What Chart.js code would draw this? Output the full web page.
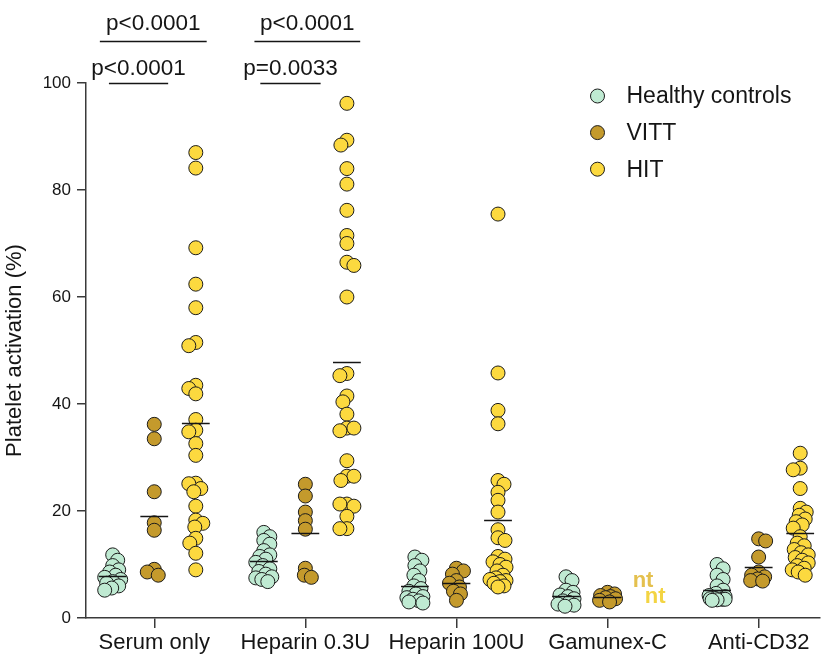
<!DOCTYPE html>
<html>
<head>
<meta charset="utf-8">
<script src="https://cdn.jsdelivr.net/npm/chart.js@4/dist/chart.umd.min.js"></script>
<style>
  html, body { margin: 0; padding: 0; background: #fff; }
  canvas { display: block; }
</style>
</head>
<body>
<canvas id="chart" width="828" height="662"></canvas>
<script>
// Stimulation conditions along the x axis
const categories = ['Serum only', 'Heparin 0.3U', 'Heparin 100U', 'Gamunex-C', 'Anti-CD32'];
const seriesNames = ['Healthy controls', 'VITT', 'HIT'];

// Platelet activation (%) per condition, one array per patient group
const healthy = [
  [11.8, 10.8, 9.8, 9.0, 8.6, 8.0, 7.6, 7.2, 6.8, 6.5, 6.0, 5.6, 5.2],
  [16.0, 15.2, 14.5, 13.8, 12.6, 11.8, 11.5, 11.0, 10.4, 9.8, 9.2, 8.7, 8.2, 7.7, 7.5, 7.2, 6.8],
  [11.4, 10.8, 9.8, 8.8, 8.0, 7.0, 6.0, 5.5, 5.0, 4.5, 4.0, 3.8, 3.5, 3.2, 3.0, 2.8],
  [7.7, 7.0, 5.2, 4.8, 4.3, 4.0, 3.6, 3.2, 2.9, 2.6, 2.4, 2.2],
  [10.0, 9.2, 8.0, 7.2, 6.0, 5.2, 4.6, 4.2, 4.0, 3.8, 3.7, 3.6, 3.5, 3.5, 3.4, 3.3]
];
const vitt = [
  [36.2, 33.5, 23.6, 17.8, 16.4, 9.1, 8.6, 8.0],
  [25.0, 22.8, 19.8, 18.2, 16.6, 9.3, 8.0, 7.6],
  [9.3, 8.8, 8.2, 7.0, 6.5, 5.8, 5.0, 4.5, 3.3],
  [4.8, 4.5, 4.2, 4.0, 3.8, 3.6, 3.3, 3.0],
  [14.8, 14.4, 11.4, 8.6, 8.0, 7.7, 7.3, 7.0, 6.9]
];
const hit = [
  [87.0, 84.1, 69.2, 62.4, 58.0, 51.5, 50.9, 43.5, 42.9, 41.9, 37.1, 35.1, 34.8, 32.6, 30.4,
   25.2, 25.1, 24.2, 23.6, 20.9, 18.3, 17.7, 17.0, 14.9, 14.0, 12.1, 9.0],
  [96.2, 89.3, 88.4, 84.0, 81.1, 76.2, 71.5, 70.0, 66.5, 65.9, 60.0, 45.7, 45.3, 41.5, 40.4,
   38.1, 35.5, 35.5, 35.0, 29.4, 26.5, 26.5, 25.7, 21.3, 21.3, 20.9, 19.0, 16.7, 16.7],
  [75.5, 45.8, 38.8, 36.3, 25.7, 25.0, 23.5, 22.0, 19.8, 16.5, 15.0, 14.5, 11.5, 11.0, 10.5,
   10.0, 9.5, 8.8, 8.0, 7.5, 7.2, 7.0, 6.8, 6.5, 6.0, 5.8],
  [],
  [30.8, 28.0, 27.7, 24.2, 20.5, 19.8, 19.2, 18.5, 18.0, 17.4, 16.8, 15.2, 14.0, 13.5, 12.8,
   12.2, 11.8, 11.3, 10.8, 10.3, 9.8, 9.3, 9.0, 8.6, 8.0]
];

// Significance labels: Serum only (HC vs HIT, HC vs VITT), Heparin 0.3U (HC vs HIT, HC vs VITT)
const pLabels = ['p<0.0001', 'p<0.0001', 'p<0.0001', 'p=0.0033'];
const notTestedLabel = 'nt';
const yTicks = [0, 20, 40, 60, 80, 100];

const FONT = "'Liberation Sans', Arial, Helvetica, sans-serif";
const INK = '#151515';
const AXIS = '#3a3a3a';
const fills = ['#bfead2', '#c49a2c', '#fcd93f'];
const groupOffset = [-0.275, 0, 0.275];
const groups = [healthy, vitt, hit];

const datasets = groups.map((g, gi) => ({
  label: seriesNames[gi],
  data: g.flatMap((vals, ci) => vals.map(v => ({ x: ci + groupOffset[gi], y: v, c: ci }))),
  backgroundColor: fills[gi],
  borderColor: '#1c1c1c',
  borderWidth: 1,
  pointRadius: 7,
  pointHoverRadius: 7
}));

const mean = arr => arr.reduce((a, b) => a + b, 0) / arr.length;

// Mean bars, significance brackets, "nt" labels and the legend
const decorations = {
  id: 'decorations',
  afterDatasetsDraw(chart) {
    const { ctx, scales: { x, y } } = chart;
    ctx.save();
    ctx.strokeStyle = INK;
    ctx.lineWidth = 1.5;
    groups.forEach((g, gi) => {
      g.forEach((vals, ci) => {
        if (!vals.length) return;
        const cx = ci + groupOffset[gi];
        const py = Math.round(y.getPixelForValue(mean(vals))) + 0.5;
        ctx.beginPath();
        ctx.moveTo(x.getPixelForValue(cx - 0.092), py);
        ctx.lineTo(x.getPixelForValue(cx + 0.092), py);
        ctx.stroke();
      });
    });
    ctx.restore();
  },
  afterDraw(chart) {
    const { ctx, scales: { x, y } } = chart;
    ctx.save();

    // brackets: [from, to, level value, label index]
    const brackets = [
      [-0.36, 0.347, 107.9, 0],
      [-0.30, 0.092, 100.0, 1],
      [0.663, 1.363, 107.9, 2],
      [0.702, 1.101, 100.0, 3]
    ];
    ctx.strokeStyle = INK;
    ctx.lineWidth = 1.5;
    ctx.fillStyle = INK;
    ctx.font = `22.5px ${FONT}`;
    ctx.textAlign = 'center';
    ctx.textBaseline = 'alphabetic';
    brackets.forEach(([a, b, lvl, li]) => {
      const py = Math.round(y.getPixelForValue(lvl)) + 0.5;
      const x1 = x.getPixelForValue(a), x2 = x.getPixelForValue(b);
      ctx.beginPath();
      ctx.moveTo(x1, py);
      ctx.lineTo(x2, py);
      ctx.stroke();
      const gap = lvl > 101 ? 12 : 9;
      ctx.fillText(pLabels[li], (x1 + x2) / 2, py - gap);
    });

    // not tested (HIT, Gamunex-C)
    ctx.font = `bold 22px ${FONT}`;
    ctx.textBaseline = 'middle';
    ctx.fillStyle = '#e4c04e';
    ctx.fillText(notTestedLabel, x.getPixelForValue(3.235), y.getPixelForValue(7.0));
    ctx.fillStyle = '#f3d443';
    ctx.fillText(notTestedLabel, x.getPixelForValue(3.315), y.getPixelForValue(4.0));

    // legend
    ctx.font = `23px ${FONT}`;
    ctx.textAlign = 'left';
    ctx.textBaseline = 'middle';
    seriesNames.forEach((name, i) => {
      const ly = 96 + i * 36.6;
      ctx.beginPath();
      ctx.arc(597.5, ly, 7, 0, Math.PI * 2);
      ctx.fillStyle = fills[i];
      ctx.fill();
      ctx.strokeStyle = '#1c1c1c';
      ctx.lineWidth = 1;
      ctx.stroke();
      ctx.fillStyle = INK;
      ctx.fillText(name, 626.5, ly + 1);
    });
    ctx.restore();
  }
};

const chart = new Chart(document.getElementById('chart'), {
  type: 'scatter',
  data: { datasets },
  options: {
    responsive: false,
    animation: false,
    devicePixelRatio: 1,
    layout: { padding: { top: 83, right: 0, bottom: 0, left: 0 } },
    plugins: { legend: { display: false }, tooltip: { enabled: false } },
    scales: {
      x: {
        type: 'linear',
        min: -0.4517,
        max: 4.406,
        afterFit(scale) { scale.height = 44; },
        afterBuildTicks(scale) { scale.ticks = categories.map((_, i) => ({ value: i })); },
        ticks: {
          autoSkip: false,
          maxRotation: 0,
          padding: 2,
          color: INK,
          font: { size: 22, family: FONT },
          callback: v => categories[v] ?? ''
        },
        grid: { drawOnChartArea: false, drawTicks: true, tickLength: 10, color: AXIS, lineWidth: 1.5 },
        border: { display: true, color: AXIS, width: 1.5 }
      },
      y: {
        min: 0,
        max: 100,
        afterFit(scale) { scale.width = 86; },
        afterBuildTicks(scale) { scale.ticks = yTicks.map(v => ({ value: v })); },
        ticks: { padding: 6, color: INK, font: { size: 17, family: FONT } },
        grid: { drawOnChartArea: false, drawTicks: true, tickLength: 9, color: AXIS, lineWidth: 1.5 },
        border: { display: true, color: AXIS, width: 1.5 },
        title: {
          display: true,
          text: 'Platelet activation (%)',
          color: INK,
          font: { size: 22, family: FONT },
          padding: { top: 2, bottom: 0 }
        }
      }
    }
  },
  plugins: [decorations]
});

// Spread overlapping points sideways (compact beeswarm in pixel space)
function arrangeSwarm(ch) {
  const xs = ch.scales.x, ys = ch.scales.y;
  const unit = xs.getPixelForValue(1) - xs.getPixelForValue(0);
  const MIN_DIST = 7, MAX_OFF = 8;
  ch.data.datasets.forEach((ds, gi) => {
    categories.forEach((_, ci) => {
      const pts = ds.data.filter(p => p.c === ci);
      const placed = [];
      pts.forEach((p, k) => {
        const py = ys.getPixelForValue(p.y);
        let best = 0, bestScore = -Infinity, done = false;
        for (let step = 0; step <= MAX_OFF && !done; step++) {
          for (const s of (k % 2 ? [1, -1] : [-1, 1])) {
            const off = step * s;
            let md = Infinity;
            placed.forEach(q => { md = Math.min(md, Math.hypot(off - q.off, py - q.py)); });
            if (md >= MIN_DIST) { best = off; done = true; break; }
            if (md > bestScore) { bestScore = md; best = off; }
          }
        }
        placed.push({ off: best, py });
        p.x = ci + groupOffset[gi] + best / unit;
      });
    });
  });
  ch.update('none');
}
arrangeSwarm(chart);
</script>
</body>
</html>
